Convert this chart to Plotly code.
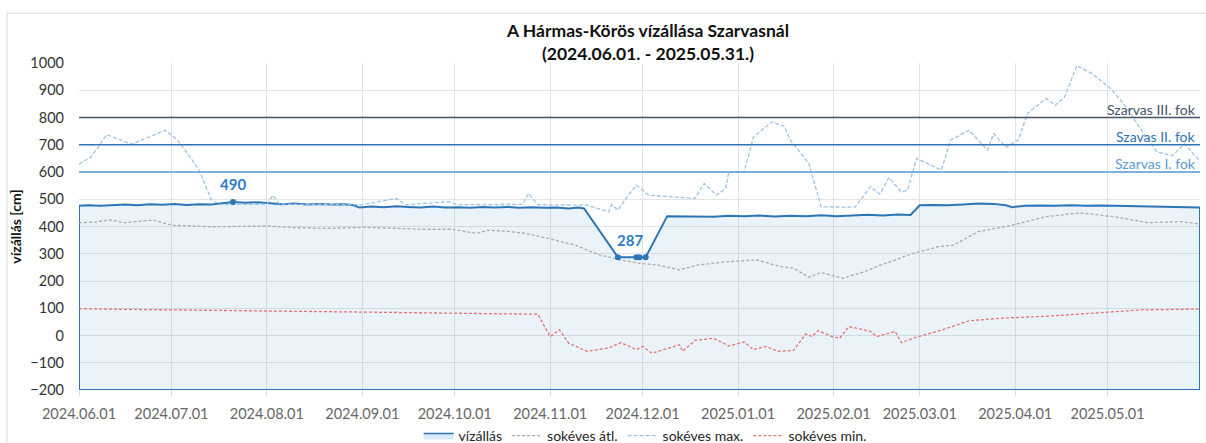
import numpy as np
import plotly.graph_objects as go

# ---------------- data ----------------
TITLE_LINE1 = "A Hármas-Körös vízállása Szarvasnál"
TITLE_LINE2 = "(2024.06.01. - 2025.05.31.)"
Y_TITLE = "vízállás [cm]"
X_RANGE = ["2024-06-01", "2025-05-31"]
Y_RANGE = [-200, 1000]
X_TICKS = ["2024-06-01", "2024-07-01", "2024-08-01", "2024-09-01", "2024-10-01",
           "2024-11-01", "2024-12-01", "2025-01-01", "2025-02-01", "2025-03-01",
           "2025-04-01", "2025-05-01"]
X_TICK_LABELS = ["2024.06.01", "2024.07.01", "2024.08.01", "2024.09.01", "2024.10.01",
                 "2024.11.01", "2024.12.01", "2025.01.01", "2025.02.01", "2025.03.01",
                 "2025.04.01", "2025.05.01"]
Y_TICKS = [-200, -100, 0, 100, 200, 300, 400, 500, 600, 700, 800, 900, 1000]

LEVEL_DATES = [
    "2024-06-01", "2024-06-04", "2024-06-08", "2024-06-12", "2024-06-16", "2024-06-20",
    "2024-06-24", "2024-06-28", "2024-07-02", "2024-07-06", "2024-07-10", "2024-07-14",
    "2024-07-18", "2024-07-21", "2024-07-25", "2024-07-29", "2024-08-02", "2024-08-06",
    "2024-08-10", "2024-08-14", "2024-08-18", "2024-08-22", "2024-08-26", "2024-08-29",
    "2024-08-31", "2024-09-04", "2024-09-08", "2024-09-12", "2024-09-16", "2024-09-20",
    "2024-09-24", "2024-09-28", "2024-10-02", "2024-10-06", "2024-10-10", "2024-10-14",
    "2024-10-18", "2024-10-22", "2024-10-26", "2024-10-30", "2024-11-03", "2024-11-07",
    "2024-11-10", "2024-11-12", "2024-11-23", "2024-11-29", "2024-11-30", "2024-12-02",
    "2024-12-09", "2024-12-14", "2024-12-19", "2024-12-24", "2024-12-29", "2025-01-03",
    "2025-01-08", "2025-01-13", "2025-01-18", "2025-01-23", "2025-01-28", "2025-02-02",
    "2025-02-07", "2025-02-12", "2025-02-17", "2025-02-22", "2025-02-26", "2025-03-01",
    "2025-03-05", "2025-03-10", "2025-03-15", "2025-03-20", "2025-03-25", "2025-03-29",
    "2025-03-31", "2025-04-04", "2025-04-09", "2025-04-14", "2025-04-19", "2025-04-24",
    "2025-04-29", "2025-05-04", "2025-05-09", "2025-05-14", "2025-05-19", "2025-05-24",
    "2025-05-28", "2025-05-31"]
LEVEL_VALUES = [
    476, 478, 476, 479, 481, 478,
    482, 480, 483, 479, 482, 481,
    486, 490, 487, 489, 485, 482,
    484, 481, 483, 481, 482, 479,
    470, 473, 471, 474, 472, 470,
    473, 470, 471, 469, 472, 470,
    472, 469, 471, 469, 470, 466,
    470, 466, 287, 287, 287, 287,
    438, 437, 438, 436, 439, 438,
    440, 437, 439, 438, 441, 438,
    440, 443, 440, 444, 442, 478,
    479, 478, 481, 484, 483, 478,
    471, 476, 477, 476, 478, 476,
    477, 476, 477, 476, 474, 473,
    471, 470]

AVG_DATES = [
    "2024-06-01", "2024-06-06", "2024-06-11", "2024-06-16", "2024-06-20", "2024-06-25",
    "2024-07-01", "2024-07-14", "2024-08-01", "2024-08-10", "2024-08-20", "2024-09-02",
    "2024-09-20", "2024-09-30", "2024-10-08", "2024-10-12", "2024-10-17", "2024-10-24",
    "2024-10-31", "2024-11-09", "2024-11-17", "2024-11-24", "2024-11-30", "2024-12-06",
    "2024-12-13", "2024-12-19", "2024-12-29", "2025-01-07", "2025-01-15", "2025-01-19",
    "2025-01-24", "2025-01-28", "2025-02-04", "2025-02-11", "2025-02-15", "2025-02-21",
    "2025-02-27", "2025-03-07", "2025-03-12", "2025-03-20", "2025-03-31", "2025-04-11",
    "2025-04-22", "2025-05-03", "2025-05-14", "2025-05-25", "2025-05-31"]
AVG_VALUES = [
    414, 416, 424, 414, 418, 424,
    405, 399, 402, 396, 393, 397,
    390, 390, 375, 386, 383, 375,
    357, 332, 296, 277, 265, 258,
    241, 259, 271, 277, 253, 247,
    214, 231, 210, 234, 253, 277,
    302, 326, 332, 381, 405, 436,
    450, 436, 414, 418, 409]

MAX_DATES = [
    "2024-06-01", "2024-06-05", "2024-06-10", "2024-06-18", "2024-06-29", "2024-07-03",
    "2024-07-07", "2024-07-10", "2024-07-14", "2024-07-17", "2024-08-01", "2024-08-03",
    "2024-08-05", "2024-09-01", "2024-09-12", "2024-09-15", "2024-09-29", "2024-10-02",
    "2024-10-23", "2024-10-25", "2024-10-28", "2024-11-13", "2024-11-20", "2024-11-21",
    "2024-11-23", "2024-11-26", "2024-11-29", "2024-12-03", "2024-12-18", "2024-12-21",
    "2024-12-25", "2024-12-28", "2024-12-29", "2025-01-03", "2025-01-06", "2025-01-08",
    "2025-01-12", "2025-01-16", "2025-01-18", "2025-01-24", "2025-01-28", "2025-02-08",
    "2025-02-13", "2025-02-16", "2025-02-19", "2025-02-23", "2025-02-25", "2025-02-28",
    "2025-03-08", "2025-03-11", "2025-03-17", "2025-03-23", "2025-03-25", "2025-03-29",
    "2025-04-02", "2025-04-05", "2025-04-11", "2025-04-14", "2025-04-17", "2025-04-21",
    "2025-04-26", "2025-05-02", "2025-05-07", "2025-05-12", "2025-05-17", "2025-05-22",
    "2025-05-26", "2025-05-31"]
MAX_VALUES = [
    629, 656, 737, 702, 753, 717,
    656, 607, 497, 480, 482, 515,
    482, 480, 503, 480, 491, 480,
    481, 521, 480, 478, 454, 480,
    460, 509, 552, 515, 503, 558,
    515, 540, 601, 601, 729, 747,
    784, 768, 717, 631, 472, 471,
    546, 519, 579, 527, 533, 650,
    607, 717, 753, 680, 741, 691,
    717, 815, 870, 845, 875, 990,
    961, 906, 839, 753, 674, 660,
    703, 640]

MIN_DATES = [
    "2024-06-01", "2024-06-25", "2024-08-01", "2024-09-01", "2024-09-30", "2024-10-28",
    "2024-11-01", "2024-11-04", "2024-11-07", "2024-11-13", "2024-11-20", "2024-11-24",
    "2024-11-29", "2024-12-01", "2024-12-04", "2024-12-08", "2024-12-13", "2024-12-14",
    "2024-12-18", "2024-12-24", "2024-12-29", "2025-01-03", "2025-01-06", "2025-01-10",
    "2025-01-14", "2025-01-19", "2025-01-23", "2025-01-25", "2025-01-27", "2025-02-01",
    "2025-02-03", "2025-02-06", "2025-02-13", "2025-02-15", "2025-02-21", "2025-02-23",
    "2025-02-28", "2025-03-09", "2025-03-17", "2025-03-28", "2025-04-10", "2025-04-29",
    "2025-05-12", "2025-05-31"]
MIN_VALUES = [
    98, 94, 90, 86, 82, 78,
    -4, 21, -28, -58, -46, -26,
    -52, -40, -65, -50, -34, -58,
    -18, -10, -38, -24, -52, -40,
    -58, -55, 6, -4, 18, -6,
    -10, 33, 15, -4, 15, -26,
    -6, 23, 54, 64, 70, 84,
    94, 97]

THRESHOLD_VALUES = [600, 700, 800]
THRESHOLD_LABELS = ["Szarvas I. fok", "Szavas II. fok", "Szarvas III. fok"]
THRESHOLD_COLORS = ["#5B9BD5", "#2E75B6", "#44546A"]

SERIES_NAMES = ["vízállás", "sokéves átl.", "sokéves max.", "sokéves min."]

# ---------------- styles ----------------
FONT = "Lato, 'Open Sans', sans-serif"
LEVEL_COLOR = "#2E75B6"
LABEL_COLOR = "#2E7CC8"
GRID = "#E3E3E3"

fig = go.Figure()

# water level as an area closed down to the axis minimum
base = Y_RANGE[0]
area_x = LEVEL_DATES + [LEVEL_DATES[-1], LEVEL_DATES[0], LEVEL_DATES[0]]
area_y = LEVEL_VALUES + [base, base, LEVEL_VALUES[0]]
fig.add_trace(go.Scatter(
    x=area_x, y=area_y, mode="lines", name=SERIES_NAMES[0], showlegend=False,
    fill="toself", fillcolor="rgba(91,155,213,0.12)",
    line=dict(color=LEVEL_COLOR, width=2), hoverinfo="skip"))
# legend entry for the area
fig.add_trace(go.Scatter(
    x=[None, None], y=[None, None], mode="lines", name=SERIES_NAMES[0],
    fill="toself", fillcolor="#DCE9F6", line=dict(color=LEVEL_COLOR, width=1.5)))

fig.add_trace(go.Scatter(
    x=AVG_DATES, y=AVG_VALUES, mode="lines", name=SERIES_NAMES[1],
    line=dict(color="#ABABAB", width=1.3, dash="3px,2px")))
fig.add_trace(go.Scatter(
    x=MAX_DATES, y=MAX_VALUES, mode="lines", name=SERIES_NAMES[2],
    line=dict(color="#9DC3E6", width=1.3, dash="4px,2px")))
fig.add_trace(go.Scatter(
    x=MIN_DATES, y=MIN_VALUES, mode="lines", name=SERIES_NAMES[3],
    line=dict(color="#E57373", width=1.3, dash="3px,2px")))

# max / min markers derived from the level data
vals = np.array(LEVEL_VALUES)
dates = np.array(LEVEL_DATES)
imax = int(np.argmax(vals))
min_idx = np.where(vals == vals.min())[0]
fig.add_trace(go.Scatter(
    x=[dates[imax]] + list(dates[min_idx]),
    y=[vals[imax]] + list(vals[min_idx]),
    mode="markers", showlegend=False,
    marker=dict(color=LEVEL_COLOR, size=6)))

ann = []
ann.append(dict(x=dates[imax], y=vals[imax], xref="x", yref="y", text="<b>%d</b>" % vals[imax],
                showarrow=False, yanchor="bottom", yshift=7,
                font=dict(family=FONT, size=15, color=LABEL_COLOR)))
d0 = np.datetime64(dates[min_idx[0]])
d1 = np.datetime64(dates[min_idx[-1]])
mid = d0 + (d1 - d0) / 2
ann.append(dict(x=str(mid), y=vals.min(), xref="x", yref="y", text="<b>%d</b>" % vals.min(),
                showarrow=False, yanchor="bottom", yshift=6,
                font=dict(family=FONT, size=15, color=LABEL_COLOR)))

shapes = []
for v, lab, col in zip(THRESHOLD_VALUES, THRESHOLD_LABELS, THRESHOLD_COLORS):
    shapes.append(dict(type="line", xref="paper", yref="y", x0=0, x1=1, y0=v, y1=v,
                       line=dict(color=col, width=1.5), layer="above"))
    ann.append(dict(x=1, y=v, xref="paper", yref="y", text=lab, showarrow=False,
                    xanchor="right", yanchor="bottom", yshift=-2, xshift=-2,
                    font=dict(family=FONT, size=14, color=col)))

# outer chart border
shapes.append(dict(type="rect", xref="paper", yref="paper",
                   x0=-0.0642, x1=1.02, y0=-0.3, y1=1.152,
                   line=dict(color="#D9D9D9", width=1), layer="below"))

fig.update_layout(
    width=1206, height=443,
    margin=dict(l=79, r=6, t=63, b=53, autoexpand=False),
    paper_bgcolor="white", plot_bgcolor="white",
    font=dict(family=FONT, size=14, color="#404040"),
    title=dict(text="<b>%s</b><br><b>%s</b>" % (TITLE_LINE1, TITLE_LINE2),
               x=0.5076, xref="paper", xanchor="center",
               y=0.9165, yref="container", yanchor="top",
               font=dict(family=FONT, size=17.5, color="#111111")),
    xaxis=dict(type="date", range=X_RANGE, tickvals=X_TICKS, ticktext=X_TICK_LABELS,
               showgrid=True, gridcolor=GRID, gridwidth=1, zeroline=False,
               ticks="outside", ticklen=5, tickcolor="#D9D9D9", automargin=False,
               showline=False, tickfont=dict(family=FONT, size=14.5, color="#666666"),
               ticklabelstandoff=6),
    yaxis=dict(range=Y_RANGE, tickvals=Y_TICKS, showgrid=True, gridcolor=GRID, gridwidth=1,
               zeroline=False, showline=False, ticks="", automargin=False,
               tickfont=dict(family=FONT, size=14.5, color="#333333"),
               ticklabelstandoff=14,
               title=dict(text="<b>%s</b>" % Y_TITLE, standoff=5,
                          font=dict(family=FONT, size=14, color="#111111"))),
    legend=dict(orientation="h", x=0.505, xanchor="center",
                yref="container", y=0.052, yanchor="top",
                font=dict(family=FONT, size=14, color="#262626"),
                itemwidth=30, bgcolor="rgba(0,0,0,0)", tracegroupgap=0),
    shapes=shapes, annotations=ann, showlegend=True,
)

fig.write_html("out.html", config={"displayModeBar": False},
               post_script="document.body.style.margin='0';document.body.style.overflow='hidden';")
